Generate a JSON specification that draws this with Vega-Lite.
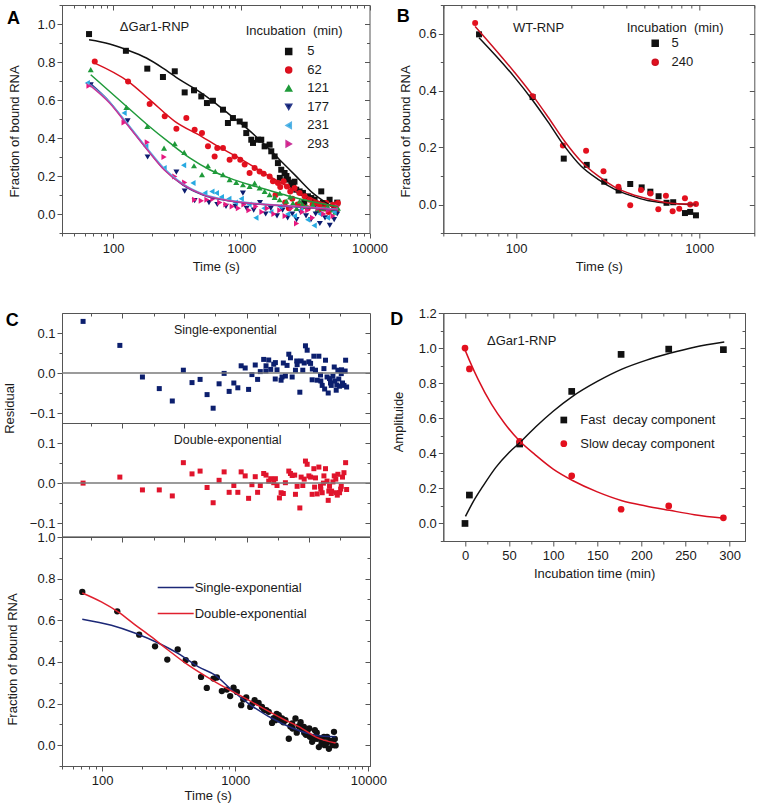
{
"$schema": "https://vega.github.io/schema/vega-lite/v6.json",
"background": "white",
"padding": {"left": 3, "top": -2, "right": 0, "bottom": 0},
"config": {
  "font": "Liberation Sans",
  "view": {"stroke": "#555555", "strokeWidth": 1},
  "axis": {"domainColor": "#555555", "tickColor": "#555555", "labelColor": "#1a1a1a", "titleColor": "#1a1a1a", "labelFontSize": 13, "titleFontSize": 13, "titleFontWeight": "normal", "labelFont": "Liberation Sans", "titleFont": "Liberation Sans", "grid": false, "labelOverlap": false, "labelFlush": false, "labelBound": false, "tickWidth": 1, "domainWidth": 1},
  "axisTop": {"domain": false, "offset": -5, "tickSize": 5, "labels": false, "title": null, "maxExtent": 0, "minExtent": 0},
  "axisRight": {"domain": false, "offset": -5, "tickSize": 5, "labels": false, "title": null, "maxExtent": 0, "minExtent": 0},
  "legend": {"labelFontSize": 13, "titleFontSize": 13, "titleFontWeight": "normal", "labelColor": "#1a1a1a", "titleColor": "#1a1a1a", "labelFont": "Liberation Sans", "titleFont": "Liberation Sans", "padding": 0},
  "title": {"font": "Liberation Sans", "fontSize": 18, "fontWeight": "bold", "color": "#000000", "anchor": "start", "frame": "group", "offset": 0, "baseline": "alphabetic", "orient": "none"},
  "text": {"font": "Liberation Sans", "fontSize": 13, "color": "#1a1a1a"}
},
"datasets": {
  "a_pts": [
    {"t":65,"y":0.947,"s":"5"},{"t":126,"y":0.859,"s":"5"},{"t":185,"y":0.765,"s":"5"},{"t":245,"y":0.721,"s":"5"},{"t":303,"y":0.751,"s":"5"},{"t":362,"y":0.640,"s":"5"},{"t":428,"y":0.651,"s":"5"},{"t":488,"y":0.619,"s":"5"},{"t":540,"y":0.584,"s":"5"},{"t":601,"y":0.596,"s":"5"},{"t":720,"y":0.549,"s":"5"},{"t":787,"y":0.479,"s":"5"},{"t":861,"y":0.505,"s":"5"},{"t":972,"y":0.487,"s":"5"},{"t":1063,"y":0.470,"s":"5"},{"t":1094,"y":0.426,"s":"5"},{"t":1197,"y":0.391,"s":"5"},{"t":1234,"y":0.374,"s":"5"},{"t":1350,"y":0.391,"s":"5"},{"t":1432,"y":0.391,"s":"5"},{"t":1521,"y":0.356,"s":"5"},{"t":1664,"y":0.365,"s":"5"},{"t":1714,"y":0.330,"s":"5"},{"t":1820,"y":0.303,"s":"5"},{"t":1931,"y":0.268,"s":"5"},{"t":2000,"y":0.19,"s":"5"},{"t":2050,"y":0.233,"s":"5"},{"t":2177,"y":0.216,"s":"5"},{"t":2250,"y":0.2,"s":"5"},{"t":2312,"y":0.181,"s":"5"},{"t":2455,"y":0.163,"s":"5"},{"t":2529,"y":0.145,"s":"5"},{"t":2600,"y":0.17,"s":"5"},{"t":2685,"y":0.128,"s":"5"},{"t":2851,"y":0.119,"s":"5"},{"t":3027,"y":0.111,"s":"5"},{"t":3100,"y":0.06,"s":"5"},{"t":3311,"y":0.093,"s":"5"},{"t":3515,"y":0.084,"s":"5"},{"t":3732,"y":0.075,"s":"5"},{"t":3900,"y":0.05,"s":"5"},{"t":4205,"y":0.119,"s":"5"},{"t":4335,"y":0.058,"s":"5"},{"t":4600,"y":0.03,"s":"5"},{"t":4884,"y":0.075,"s":"5"},{"t":5344,"y":0.040,"s":"5"},{"t":5600,"y":0.06,"s":"5"},
    {"t":72,"y":0.803,"s":"62"},{"t":131,"y":0.698,"s":"62"},{"t":193,"y":0.579,"s":"62"},{"t":253,"y":0.514,"s":"62"},{"t":312,"y":0.449,"s":"62"},{"t":373,"y":0.505,"s":"62"},{"t":433,"y":0.444,"s":"62"},{"t":494,"y":0.426,"s":"62"},{"t":550,"y":0.356,"s":"62"},{"t":620,"y":0.303,"s":"62"},{"t":650,"y":0.347,"s":"62"},{"t":720,"y":0.347,"s":"62"},{"t":811,"y":0.286,"s":"62"},{"t":887,"y":0.303,"s":"62"},{"t":982,"y":0.286,"s":"62"},{"t":1063,"y":0.260,"s":"62"},{"t":1161,"y":0.216,"s":"62"},{"t":1271,"y":0.242,"s":"62"},{"t":1390,"y":0.224,"s":"62"},{"t":1495,"y":0.212,"s":"62"},{"t":1664,"y":0.198,"s":"62"},{"t":1766,"y":0.172,"s":"62"},{"t":1850,"y":0.1,"s":"62"},{"t":1931,"y":0.163,"s":"62"},{"t":2014,"y":0.142,"s":"62"},{"t":2140,"y":0.172,"s":"62"},{"t":2200,"y":0.06,"s":"62"},{"t":2270,"y":0.145,"s":"62"},{"t":2350,"y":0.03,"s":"62"},{"t":2410,"y":0.119,"s":"62"},{"t":2500,"y":0.08,"s":"62"},{"t":2606,"y":0.137,"s":"62"},{"t":2750,"y":0.05,"s":"62"},{"t":2851,"y":0.110,"s":"62"},{"t":3000,"y":0.04,"s":"62"},{"t":3118,"y":0.093,"s":"62"},{"t":3300,"y":0.03,"s":"62"},{"t":3412,"y":0.075,"s":"62"},{"t":3600,"y":0.05,"s":"62"},{"t":3732,"y":0.058,"s":"62"},{"t":4000,"y":0.02,"s":"62"},{"t":4084,"y":0.049,"s":"62"},{"t":4400,"y":0.03,"s":"62"},{"t":4600,"y":0.058,"s":"62"},{"t":4800,"y":0.01,"s":"62"},{"t":5185,"y":0.049,"s":"62"},{"t":5300,"y":0.03,"s":"62"},{"t":5500,"y":0.02,"s":"62"},{"t":5675,"y":0.058,"s":"62"},
    {"t":67,"y":0.760,"s":"121"},{"t":127,"y":0.561,"s":"121"},{"t":185,"y":0.461,"s":"121"},{"t":250,"y":0.347,"s":"121"},{"t":303,"y":0.370,"s":"121"},{"t":359,"y":0.324,"s":"121"},{"t":428,"y":0.254,"s":"121"},{"t":494,"y":0.207,"s":"121"},{"t":550,"y":0.254,"s":"121"},{"t":627,"y":0.224,"s":"121"},{"t":720,"y":0.207,"s":"121"},{"t":811,"y":0.181,"s":"121"},{"t":914,"y":0.166,"s":"121"},{"t":1030,"y":0.154,"s":"121"},{"t":1161,"y":0.145,"s":"121"},{"t":1271,"y":0.163,"s":"121"},{"t":1390,"y":0.137,"s":"121"},{"t":1521,"y":0.119,"s":"121"},{"t":1664,"y":0.102,"s":"121"},{"t":1820,"y":0.088,"s":"121"},{"t":1990,"y":0.075,"s":"121"},{"t":2000,"y":0.11,"s":"121"},{"t":2244,"y":0.067,"s":"121"},{"t":2400,"y":0.09,"s":"121"},{"t":2529,"y":0.058,"s":"121"},{"t":2700,"y":0.03,"s":"121"},{"t":2851,"y":0.067,"s":"121"},{"t":3000,"y":0.05,"s":"121"},{"t":3215,"y":0.040,"s":"121"},{"t":3620,"y":0.049,"s":"121"},{"t":3900,"y":0.02,"s":"121"},{"t":4335,"y":0.031,"s":"121"},{"t":4700,"y":0.04,"s":"121"},{"t":5185,"y":0.023,"s":"121"},{"t":5400,"y":0.01,"s":"121"},{"t":5675,"y":0.031,"s":"121"},
    {"t":67,"y":0.68,"s":"177"},{"t":130,"y":0.49,"s":"177"},{"t":186,"y":0.30,"s":"177"},{"t":312,"y":0.22,"s":"177"},{"t":362,"y":0.12,"s":"177"},{"t":433,"y":0.07,"s":"177"},{"t":560,"y":0.06,"s":"177"},{"t":650,"y":0.05,"s":"177"},{"t":760,"y":0.04,"s":"177"},{"t":900,"y":0.04,"s":"177"},{"t":1030,"y":0.11,"s":"177"},{"t":1100,"y":0.03,"s":"177"},{"t":1250,"y":0.02,"s":"177"},{"t":1400,"y":0.06,"s":"177"},{"t":1550,"y":0.00,"s":"177"},{"t":1700,"y":0.03,"s":"177"},{"t":1900,"y":-0.01,"s":"177"},{"t":2100,"y":0.02,"s":"177"},{"t":2300,"y":-0.02,"s":"177"},{"t":2500,"y":0.00,"s":"177"},{"t":2700,"y":-0.03,"s":"177"},{"t":2900,"y":0.01,"s":"177"},{"t":3200,"y":-0.01,"s":"177"},{"t":3500,"y":-0.03,"s":"177"},{"t":3800,"y":0.00,"s":"177"},{"t":4100,"y":-0.05,"s":"177"},{"t":4500,"y":-0.02,"s":"177"},{"t":4900,"y":-0.06,"s":"177"},{"t":5300,"y":-0.03,"s":"177"},{"t":5600,"y":0.00,"s":"177"},
    {"t":63,"y":0.689,"s":"231"},{"t":122,"y":0.531,"s":"231"},{"t":180,"y":0.356,"s":"231"},{"t":250,"y":0.242,"s":"231"},{"t":355,"y":0.256,"s":"231"},{"t":420,"y":0.163,"s":"231"},{"t":520,"y":0.110,"s":"231"},{"t":590,"y":0.119,"s":"231"},{"t":640,"y":0.11,"s":"231"},{"t":700,"y":0.09,"s":"231"},{"t":800,"y":0.08,"s":"231"},{"t":900,"y":0.06,"s":"231"},{"t":1000,"y":0.08,"s":"231"},{"t":1150,"y":0.05,"s":"231"},{"t":1300,"y":-0.02,"s":"231"},{"t":1500,"y":0.03,"s":"231"},{"t":1700,"y":0.01,"s":"231"},{"t":2000,"y":0.04,"s":"231"},{"t":2300,"y":0.00,"s":"231"},{"t":2600,"y":-0.01,"s":"231"},{"t":2900,"y":0.02,"s":"231"},{"t":3300,"y":-0.03,"s":"231"},{"t":3700,"y":-0.06,"s":"231"},{"t":4100,"y":0.00,"s":"231"},{"t":4700,"y":-0.02,"s":"231"},{"t":5300,"y":0.01,"s":"231"},
    {"t":65,"y":0.675,"s":"293"},{"t":122,"y":0.482,"s":"293"},{"t":185,"y":0.377,"s":"293"},{"t":250,"y":0.300,"s":"293"},{"t":303,"y":0.198,"s":"293"},{"t":362,"y":0.166,"s":"293"},{"t":433,"y":0.075,"s":"293"},{"t":488,"y":0.070,"s":"293"},{"t":540,"y":0.075,"s":"293"},{"t":601,"y":0.079,"s":"293"},{"t":680,"y":0.06,"s":"293"},{"t":760,"y":0.05,"s":"293"},{"t":850,"y":0.04,"s":"293"},{"t":950,"y":0.03,"s":"293"},{"t":1050,"y":0.05,"s":"293"},{"t":1150,"y":0.02,"s":"293"},{"t":1300,"y":0.04,"s":"293"},{"t":1450,"y":0.01,"s":"293"},{"t":1600,"y":0.03,"s":"293"},{"t":1800,"y":0.00,"s":"293"},{"t":2000,"y":0.02,"s":"293"},{"t":2200,"y":-0.01,"s":"293"},{"t":2450,"y":0.03,"s":"293"},{"t":2700,"y":-0.05,"s":"293"},{"t":3000,"y":0.01,"s":"293"},{"t":3300,"y":0.02,"s":"293"},{"t":3600,"y":-0.02,"s":"293"},{"t":4000,"y":0.03,"s":"293"},{"t":4400,"y":0.00,"s":"293"},{"t":4800,"y":0.02,"s":"293"},{"t":5200,"y":-0.01,"s":"293"},{"t":5600,"y":0.04,"s":"293"}
  ],
  "a_fit": [
    {"t":65,"y":0.917,"s":"5"},{"t":94,"y":0.895,"s":"5"},{"t":127,"y":0.865,"s":"5"},{"t":182,"y":0.821,"s":"5"},{"t":245,"y":0.768,"s":"5"},{"t":331,"y":0.707,"s":"5"},{"t":446,"y":0.654,"s":"5"},{"t":601,"y":0.593,"s":"5"},{"t":811,"y":0.523,"s":"5"},{"t":1094,"y":0.453,"s":"5"},{"t":1476,"y":0.374,"s":"5"},{"t":1990,"y":0.286,"s":"5"},{"t":2685,"y":0.198,"s":"5"},{"t":3620,"y":0.110,"s":"5"},{"t":4600,"y":0.058,"s":"5"},{"t":5500,"y":0.026,"s":"5"},
    {"t":72,"y":0.794,"s":"62"},{"t":131,"y":0.698,"s":"62"},{"t":193,"y":0.602,"s":"62"},{"t":303,"y":0.488,"s":"62"},{"t":488,"y":0.409,"s":"62"},{"t":658,"y":0.356,"s":"62"},{"t":914,"y":0.303,"s":"62"},{"t":1664,"y":0.198,"s":"62"},{"t":3027,"y":0.102,"s":"62"},{"t":5505,"y":0.031,"s":"62"},
    {"t":67,"y":0.733,"s":"121"},{"t":127,"y":0.567,"s":"121"},{"t":185,"y":0.470,"s":"121"},{"t":277,"y":0.374,"s":"121"},{"t":396,"y":0.295,"s":"121"},{"t":567,"y":0.233,"s":"121"},{"t":811,"y":0.189,"s":"121"},{"t":1161,"y":0.154,"s":"121"},{"t":1664,"y":0.124,"s":"121"},{"t":2384,"y":0.093,"s":"121"},{"t":3412,"y":0.067,"s":"121"},{"t":5675,"y":0.040,"s":"121"},
    {"t":67,"y":0.685,"s":"177"},{"t":94,"y":0.59,"s":"177"},{"t":123,"y":0.49,"s":"177"},{"t":185,"y":0.34,"s":"177"},{"t":250,"y":0.235,"s":"177"},{"t":351,"y":0.152,"s":"177"},{"t":503,"y":0.10,"s":"177"},{"t":811,"y":0.068,"s":"177"},{"t":1664,"y":0.047,"s":"177"},{"t":3027,"y":0.035,"s":"177"},{"t":5675,"y":0.02,"s":"177"},
    {"t":63,"y":0.69,"s":"231"},{"t":94,"y":0.59,"s":"231"},{"t":123,"y":0.495,"s":"231"},{"t":185,"y":0.345,"s":"231"},{"t":250,"y":0.24,"s":"231"},{"t":351,"y":0.158,"s":"231"},{"t":503,"y":0.105,"s":"231"},{"t":811,"y":0.072,"s":"231"},{"t":1664,"y":0.05,"s":"231"},{"t":3027,"y":0.038,"s":"231"},{"t":5675,"y":0.025,"s":"231"},
    {"t":65,"y":0.681,"s":"293"},{"t":94,"y":0.584,"s":"293"},{"t":123,"y":0.488,"s":"293"},{"t":185,"y":0.338,"s":"293"},{"t":250,"y":0.233,"s":"293"},{"t":351,"y":0.154,"s":"293"},{"t":503,"y":0.102,"s":"293"},{"t":811,"y":0.070,"s":"293"},{"t":1664,"y":0.049,"s":"293"},{"t":3027,"y":0.037,"s":"293"},{"t":5675,"y":0.023,"s":"293"}
  ],
  "b_pts": [
    {"t":62.7,"y":0.597,"s":"5"},{"t":123,"y":0.377,"s":"5"},{"t":182,"y":0.161,"s":"5"},{"t":243,"y":0.139,"s":"5"},{"t":303,"y":0.080,"s":"5"},{"t":363,"y":0.049,"s":"5"},{"t":420,"y":0.072,"s":"5"},{"t":485,"y":0.060,"s":"5"},{"t":541,"y":0.045,"s":"5"},{"t":600,"y":0.029,"s":"5"},{"t":663,"y":0.006,"s":"5"},{"t":721,"y":0.008,"s":"5"},{"t":836,"y":-0.030,"s":"5"},{"t":893,"y":-0.026,"s":"5"},{"t":960,"y":-0.038,"s":"5"},
    {"t":59.7,"y":0.637,"s":"240"},{"t":123,"y":0.380,"s":"240"},{"t":180,"y":0.207,"s":"240"},{"t":241,"y":0.189,"s":"240"},{"t":300,"y":0.117,"s":"240"},{"t":362,"y":0.062,"s":"240"},{"t":420,"y":-0.003,"s":"240"},{"t":481,"y":0.051,"s":"240"},{"t":541,"y":0.039,"s":"240"},{"t":598,"y":-0.017,"s":"240"},{"t":658,"y":0.031,"s":"240"},{"t":716,"y":-0.024,"s":"240"},{"t":778,"y":-0.015,"s":"240"},{"t":836,"y":0.022,"s":"240"},{"t":893,"y":0.000,"s":"240"},{"t":960,"y":0.002,"s":"240"}
  ],
  "b_fit": [
    {"t":62.7,"y":0.585,"s":"5"},{"t":97.9,"y":0.447,"s":"5"},{"t":123,"y":0.366,"s":"5"},{"t":149,"y":0.291,"s":"5"},{"t":184,"y":0.204,"s":"5"},{"t":226,"y":0.135,"s":"5"},{"t":279,"y":0.089,"s":"5"},{"t":344,"y":0.054,"s":"5"},{"t":424,"y":0.031,"s":"5"},{"t":523,"y":0.014,"s":"5"},{"t":644,"y":0.006,"s":"5"},{"t":794,"y":0.002,"s":"5"},{"t":960,"y":0.000,"s":"5"},
    {"t":59.7,"y":0.625,"s":"240"},{"t":97.9,"y":0.464,"s":"240"},{"t":123,"y":0.383,"s":"240"},{"t":149,"y":0.308,"s":"240"},{"t":184,"y":0.222,"s":"240"},{"t":226,"y":0.152,"s":"240"},{"t":279,"y":0.101,"s":"240"},{"t":344,"y":0.062,"s":"240"},{"t":424,"y":0.037,"s":"240"},{"t":523,"y":0.020,"s":"240"},{"t":644,"y":0.008,"s":"240"},{"t":794,"y":0.002,"s":"240"},{"t":960,"y":0.002,"s":"240"}
  ],
  "c_res": [
    {"t":72,"r":0.129,"m":"single"},{"t":136,"r":0.069,"m":"single"},{"t":201,"r":-0.010,"m":"single"},{"t":269,"r":-0.039,"m":"single"},{"t":337,"r":-0.070,"m":"single"},{"t":408,"r":0.007,"m":"single"},{"t":474,"r":-0.024,"m":"single"},{"t":545,"r":-0.016,"m":"single"},{"t":615,"r":-0.054,"m":"single"},{"t":683,"r":-0.088,"m":"single"},{"t":757,"r":-0.027,"m":"single"},{"t":826,"r":-0.001,"m":"single"},{"t":901,"r":-0.046,"m":"single"},{"t":977,"r":-0.025,"m":"single"},{"t":1047,"r":-0.037,"m":"single"},{"t":1109,"r":0.018,"m":"single"},{"t":1189,"r":0.0125,"m":"single"},{"t":1261,"r":-0.041,"m":"single"},{"t":1336,"r":-0.004,"m":"single"},{"t":1415,"r":0.020,"m":"single"},{"t":1474,"r":-0.016,"m":"single"},{"t":1544,"r":0.0035,"m":"single"},{"t":1637,"r":0.034,"m":"single"},{"t":1700,"r":0.005,"m":"single"},{"t":1705,"r":0.018,"m":"single"},{"t":1786,"r":0.0325,"m":"single"},{"t":1849,"r":0.009,"m":"single"},{"t":1948,"r":0.022,"m":"single"},{"t":2000,"r":-0.015,"m":"single"},{"t":2005,"r":0.026,"m":"single"},{"t":2062,"r":0.008,"m":"single"},{"t":2212,"r":-0.018,"m":"single"},{"t":2249,"r":-0.010,"m":"single"},{"t":2300,"r":0.025,"m":"single"},{"t":2384,"r":-0.0075,"m":"single"},{"t":2453,"r":0.019,"m":"single"},{"t":2528,"r":0.047,"m":"single"},{"t":2602,"r":0.038,"m":"single"},{"t":2680,"r":-0.010,"m":"single"},{"t":2837,"r":0.007,"m":"single"},{"t":2900,"r":0.03,"m":"single"},{"t":2920,"r":0.021,"m":"single"},{"t":3060,"r":-0.048,"m":"single"},{"t":3129,"r":0.030,"m":"single"},{"t":3220,"r":0.007,"m":"single"},{"t":3300,"r":0.025,"m":"single"},{"t":3373,"r":0.068,"m":"single"},{"t":3474,"r":0.057,"m":"single"},{"t":3578,"r":0.028,"m":"single"},{"t":3685,"r":0.024,"m":"single"},{"t":3786,"r":-0.017,"m":"single"},{"t":3800,"r":0.01,"m":"single"},{"t":3900,"r":0.042,"m":"single"},{"t":4012,"r":0.007,"m":"single"},{"t":4130,"r":-0.018,"m":"single"},{"t":4253,"r":0.042,"m":"single"},{"t":4373,"r":-0.005,"m":"single"},{"t":4400,"r":-0.02,"m":"single"},{"t":4505,"r":-0.031,"m":"single"},{"t":4642,"r":0.011,"m":"single"},{"t":4700,"r":-0.04,"m":"single"},{"t":4772,"r":0.032,"m":"single"},{"t":4900,"r":-0.01,"m":"single"},{"t":5000,"r":-0.050,"m":"single"},{"t":5115,"r":-0.014,"m":"single"},{"t":5200,"r":-0.025,"m":"single"},{"t":5270,"r":-0.031,"m":"single"},{"t":5424,"r":-0.008,"m":"single"},{"t":5549,"r":0.015,"m":"single"},{"t":5600,"r":-0.02,"m":"single"},{"t":5741,"r":-0.043,"m":"single"},{"t":5800,"r":-0.03,"m":"single"},{"t":5910,"r":0.007,"m":"single"},{"t":6000,"r":-0.015,"m":"single"},{"t":6085,"r":-0.033,"m":"single"},{"t":6265,"r":-0.0015,"m":"single"},{"t":6300,"r":0.008,"m":"single"},{"t":6400,"r":-0.025,"m":"single"},{"t":6565,"r":-0.031,"m":"single"},{"t":6700,"r":0.005,"m":"single"},{"t":6755,"r":0.032,"m":"single"},{"t":6875,"r":-0.035,"m":"single"},
    {"t":72,"r":0.0,"m":"double"},{"t":136,"r":0.015,"m":"double"},{"t":201,"r":-0.017,"m":"double"},{"t":269,"r":-0.017,"m":"double"},{"t":337,"r":-0.032,"m":"double"},{"t":408,"r":0.051,"m":"double"},{"t":474,"r":0.023,"m":"double"},{"t":545,"r":0.030,"m":"double"},{"t":615,"r":-0.011,"m":"double"},{"t":683,"r":-0.049,"m":"double"},{"t":757,"r":0.007,"m":"double"},{"t":826,"r":0.028,"m":"double"},{"t":901,"r":-0.023,"m":"double"},{"t":977,"r":-0.006,"m":"double"},{"t":1047,"r":-0.023,"m":"double"},{"t":1109,"r":0.028,"m":"double"},{"t":1189,"r":0.018,"m":"double"},{"t":1261,"r":-0.038,"m":"double"},{"t":1336,"r":-0.004,"m":"double"},{"t":1415,"r":0.016,"m":"double"},{"t":1474,"r":-0.023,"m":"double"},{"t":1544,"r":-0.006,"m":"double"},{"t":1637,"r":0.024,"m":"double"},{"t":1705,"r":0.020,"m":"double"},{"t":1786,"r":0.005,"m":"double"},{"t":1849,"r":0.011,"m":"double"},{"t":1948,"r":0.001,"m":"double"},{"t":2005,"r":0.011,"m":"double"},{"t":2062,"r":-0.006,"m":"double"},{"t":2150,"r":-0.037,"m":"double"},{"t":2212,"r":-0.024,"m":"double"},{"t":2300,"r":-0.026,"m":"double"},{"t":2384,"r":0.001,"m":"double"},{"t":2528,"r":0.030,"m":"double"},{"t":2602,"r":0.024,"m":"double"},{"t":2680,"r":0.019,"m":"double"},{"t":2800,"r":0.02,"m":"double"},{"t":2837,"r":-0.028,"m":"double"},{"t":2920,"r":-0.008,"m":"double"},{"t":3060,"r":-0.062,"m":"double"},{"t":3129,"r":0.015,"m":"double"},{"t":3220,"r":-0.006,"m":"double"},{"t":3300,"r":0.01,"m":"double"},{"t":3373,"r":0.055,"m":"double"},{"t":3474,"r":0.047,"m":"double"},{"t":3578,"r":0.018,"m":"double"},{"t":3685,"r":0.015,"m":"double"},{"t":3786,"r":-0.028,"m":"double"},{"t":3900,"r":0.036,"m":"double"},{"t":3950,"r":-0.01,"m":"double"},{"t":4012,"r":0.013,"m":"double"},{"t":4130,"r":-0.027,"m":"double"},{"t":4253,"r":0.040,"m":"double"},{"t":4373,"r":-0.008,"m":"double"},{"t":4400,"r":-0.015,"m":"double"},{"t":4505,"r":-0.024,"m":"double"},{"t":4600,"r":0.0,"m":"double"},{"t":4642,"r":0.018,"m":"double"},{"t":4772,"r":0.036,"m":"double"},{"t":4900,"r":0.005,"m":"double"},{"t":5000,"r":-0.043,"m":"double"},{"t":5050,"r":-0.02,"m":"double"},{"t":5115,"r":-0.008,"m":"double"},{"t":5270,"r":-0.026,"m":"double"},{"t":5300,"r":-0.02,"m":"double"},{"t":5424,"r":0.003,"m":"double"},{"t":5549,"r":0.018,"m":"double"},{"t":5700,"r":0.01,"m":"double"},{"t":5741,"r":-0.024,"m":"double"},{"t":5850,"r":-0.03,"m":"double"},{"t":5910,"r":0.022,"m":"double"},{"t":6085,"r":-0.024,"m":"double"},{"t":6200,"r":-0.015,"m":"double"},{"t":6265,"r":-0.008,"m":"double"},{"t":6400,"r":0.015,"m":"double"},{"t":6565,"r":0.026,"m":"double"},{"t":6755,"r":0.051,"m":"double"},{"t":6875,"r":-0.016,"m":"double"}
  ],
  "c_pts": [
    {"t":71,"y":0.736},{"t":130,"y":0.643},{"t":190,"y":0.531},{"t":250,"y":0.475},{"t":309,"y":0.411},{"t":370,"y":0.460},{"t":425,"y":0.408},{"t":494,"y":0.392},{"t":554,"y":0.328},{"t":612,"y":0.275},{"t":687,"y":0.320},{"t":728,"y":0.325},{"t":794,"y":0.260},{"t":866,"y":0.267},{"t":917,"y":0.236},{"t":972,"y":0.276},{"t":1030,"y":0.256},{"t":1110,"y":0.192},{"t":1150,"y":0.22},{"t":1211,"y":0.229},{"t":1298,"y":0.184},{"t":1350,"y":0.2},{"t":1400,"y":0.216},{"t":1500,"y":0.203},{"t":1589,"y":0.184},{"t":1650,"y":0.17},{"t":1713,"y":0.168},{"t":1786,"y":0.160},{"t":1892,"y":0.107},{"t":1950,"y":0.13},{"t":2005,"y":0.120},{"t":2050,"y":0.15},{"t":2124,"y":0.144},{"t":2200,"y":0.12},{"t":2249,"y":0.128},{"t":2300,"y":0.11},{"t":2384,"y":0.120},{"t":2528,"y":0.031},{"t":2600,"y":0.09},{"t":2680,"y":0.104},{"t":2700,"y":0.08},{"t":2837,"y":0.128},{"t":2900,"y":0.06},{"t":3006,"y":0.091},{"t":3100,"y":0.11},{"t":3147,"y":0.080},{"t":3280,"y":0.088},{"t":3300,"y":0.06},{"t":3400,"y":0.05},{"t":3474,"y":0.064},{"t":3600,"y":0.08},{"t":3640,"y":0.040},{"t":3786,"y":0.016},{"t":3900,"y":0.03},{"t":3969,"y":0.072},{"t":4100,"y":0.06},{"t":4130,"y":0.031},{"t":4253,"y":-0.009},{"t":4400,"y":0.03},{"t":4456,"y":0.008},{"t":4642,"y":0.040},{"t":4700,"y":0.0},{"t":4831,"y":0.008},{"t":4900,"y":0.04},{"t":5060,"y":-0.017},{"t":5200,"y":0.02},{"t":5270,"y":0.016},{"t":5400,"y":0.0},{"t":5525,"y":0.064},{"t":5600,"y":0.03},{"t":5680,"y":-0.001}
  ],
  "c_fit": [
    {"t":71,"y":0.605,"m":"Single-exponential"},{"t":117.5,"y":0.576,"m":"Single-exponential"},{"t":176,"y":0.539,"m":"Single-exponential"},{"t":264,"y":0.491,"m":"Single-exponential"},{"t":374,"y":0.440,"m":"Single-exponential"},{"t":530,"y":0.376,"m":"Single-exponential"},{"t":707,"y":0.336,"m":"Single-exponential"},{"t":945,"y":0.264,"m":"Single-exponential"},{"t":1261,"y":0.200,"m":"Single-exponential"},{"t":2249,"y":0.104,"m":"Single-exponential"},{"t":4012,"y":0.048,"m":"Single-exponential"},{"t":5680,"y":0.040,"m":"Single-exponential"},
    {"t":71,"y":0.731,"m":"Double-exponential"},{"t":98.8,"y":0.688,"m":"Double-exponential"},{"t":132,"y":0.640,"m":"Double-exponential"},{"t":176,"y":0.579,"m":"Double-exponential"},{"t":235,"y":0.520,"m":"Double-exponential"},{"t":315,"y":0.456,"m":"Double-exponential"},{"t":445,"y":0.384,"m":"Double-exponential"},{"t":707,"y":0.304,"m":"Double-exponential"},{"t":1261,"y":0.216,"m":"Double-exponential"},{"t":2249,"y":0.128,"m":"Double-exponential"},{"t":3185,"y":0.080,"m":"Double-exponential"},{"t":4012,"y":0.040,"m":"Double-exponential"},{"t":5680,"y":0.010,"m":"Double-exponential"}
  ],
  "d_pts": [
    {"inc":0,"amp":0.0,"c":"Fast\u00a0 decay component"},{"inc":5,"amp":0.162,"c":"Fast\u00a0 decay component"},{"inc":62,"amp":0.453,"c":"Fast\u00a0 decay component"},{"inc":121,"amp":0.753,"c":"Fast\u00a0 decay component"},{"inc":177,"amp":0.964,"c":"Fast\u00a0 decay component"},{"inc":231,"amp":0.994,"c":"Fast\u00a0 decay component"},{"inc":293,"amp":0.991,"c":"Fast\u00a0 decay component"},
    {"inc":0,"amp":1.0,"c":"Slow decay component"},{"inc":5,"amp":0.881,"c":"Slow decay component"},{"inc":62,"amp":0.468,"c":"Slow decay component"},{"inc":121,"amp":0.272,"c":"Slow decay component"},{"inc":177,"amp":0.081,"c":"Slow decay component"},{"inc":231,"amp":0.100,"c":"Slow decay component"},{"inc":293,"amp":0.032,"c":"Slow decay component"}
  ],
  "d_fit": [
    {"inc":0.5,"amp":0.04,"c":"fast"},{"inc":10,"amp":0.13,"c":"fast"},{"inc":20,"amp":0.21,"c":"fast"},{"inc":35,"amp":0.32,"c":"fast"},{"inc":50,"amp":0.405,"c":"fast"},{"inc":62,"amp":0.46,"c":"fast"},{"inc":80,"amp":0.55,"c":"fast"},{"inc":100,"amp":0.64,"c":"fast"},{"inc":122,"amp":0.725,"c":"fast"},{"inc":150,"amp":0.81,"c":"fast"},{"inc":178,"amp":0.88,"c":"fast"},{"inc":205,"amp":0.93,"c":"fast"},{"inc":232,"amp":0.97,"c":"fast"},{"inc":260,"amp":1.005,"c":"fast"},{"inc":294,"amp":1.035,"c":"fast"},
    {"inc":0,"amp":0.99,"c":"slow"},{"inc":5,"amp":0.93,"c":"slow"},{"inc":15,"amp":0.82,"c":"slow"},{"inc":30,"amp":0.68,"c":"slow"},{"inc":45,"amp":0.57,"c":"slow"},{"inc":62,"amp":0.47,"c":"slow"},{"inc":80,"amp":0.39,"c":"slow"},{"inc":100,"amp":0.31,"c":"slow"},{"inc":122,"amp":0.245,"c":"slow"},{"inc":150,"amp":0.18,"c":"slow"},{"inc":178,"amp":0.13,"c":"slow"},{"inc":205,"amp":0.1,"c":"slow"},{"inc":232,"amp":0.075,"c":"slow"},{"inc":260,"amp":0.05,"c":"slow"},{"inc":294,"amp":0.03,"c":"slow"}
  ]
},
"hconcat": [
  {
    "vconcat": [
      {
        "width": 307.5, "height": 228,
        "title": {"text": "A", "dx": -55, "dy": 5},
        "layer": [
          {
            "data": {"name": "a_pts"},
            "mark": {"type": "point", "filled": true, "size": 36, "opacity": 1},
            "encoding": {
              "x": {"field": "t", "type": "quantitative", "scale": {"type": "log", "domain": [40, 10000], "nice": false}, "axis": {"orient": "bottom", "values": [40,50,60,70,80,90,100,200,300,400,500,600,700,800,900,1000,2000,3000,4000,5000,6000,7000,8000,9000,10000], "format": "d", "labelExpr": "indexof([100,1000,10000],datum.value)>=0?datum.label:''", "tickSize": {"condition": {"test": "indexof([100,1000,10000],datum.value)>=0", "value": 5}, "value": 3}, "title": "Time (s)", "labelPadding": 4, "titlePadding": 5}},
              "y": {"field": "y", "type": "quantitative", "scale": {"domain": [-0.1, 1.1], "nice": false, "zero": false}, "axis": {"orient": "left", "values": [-0.1,0,0.1,0.2,0.3,0.4,0.5,0.6,0.7,0.8,0.9,1,1.1], "format": ".1f", "labelExpr": "abs(datum.value*5-round(datum.value*5))<0.001?datum.label:''", "tickSize": {"condition": {"test": "abs(datum.value*5-round(datum.value*5))<0.001", "value": 5}, "value": 3}, "title": "Fraction of bound RNA", "labelPadding": 2, "titlePadding": 15, "titleY": 126}},
              "color": {"field": "s", "type": "nominal", "scale": {"domain": ["5","62","121","177","231","293"], "range": ["#111111","#e3101e","#1f9a3a","#0c1c6e","#27a9e1","#e6187f"]}, "legend": {"orient": "none", "legendX": 183.7, "legendY": 19.5, "direction": "vertical", "title": "Incubation\u00a0 (min)", "titlePadding": 7.4, "rowPadding": 4.5, "symbolOffset": 36.5, "labelOffset": 12, "symbolSize": 36}},
              "shape": {"field": "s", "type": "nominal", "scale": {"domain": ["5","62","121","177","231","293"], "range": ["square","circle","triangle-up","triangle-down","triangle-left","triangle-right"]}, "legend": {"orient": "none", "legendX": 183.7, "legendY": 19.5, "direction": "vertical", "title": "Incubation\u00a0 (min)", "titlePadding": 7.4, "rowPadding": 4.5, "symbolOffset": 36.5, "labelOffset": 12, "symbolSize": 36}}
            }
          },
          {
            "data": {"name": "a_fit"},
            "mark": {"type": "line", "strokeWidth": 1.5, "interpolate": "monotone"},
            "encoding": {
              "x": {"field": "t", "type": "quantitative", "scale": {"type": "log", "domain": [40, 10000], "nice": false}, "axis": {"orient": "top", "values": [40,50,60,70,80,90,100,200,300,400,500,600,700,800,900,1000,2000,3000,4000,5000,6000,7000,8000,9000,10000], "tickDash": {"condition": {"test": "indexof([100,1000,10000],datum.value)>=0", "value": [6, 0]}, "value": [0, 2, 3, 10]}}},
              "y": {"field": "y", "type": "quantitative", "scale": {"domain": [-0.1, 1.1], "nice": false, "zero": false}, "axis": {"orient": "right", "values": [-0.1,0,0.1,0.2,0.3,0.4,0.5,0.6,0.7,0.8,0.9,1,1.1], "tickDash": {"condition": {"test": "abs(datum.value*5-round(datum.value*5))<0.001", "value": [6, 0]}, "value": [0, 2, 3, 10]}}},
              "stroke": {"field": "s", "type": "nominal", "scale": {"domain": ["5","62","121","177","231","293"], "range": ["#111111","#d7101e","#1f9a3a","#2a3a8a","#5ab4e6","#c8359a"]}, "legend": null}
            }
          },
          {
            "data": {"values": [{}]},
            "mark": {"type": "text", "align": "left", "baseline": "middle"},
            "encoding": {
              "x": {"datum": 113, "type": "quantitative", "scale": {"type": "log", "domain": [40, 10000], "nice": false}, "axis": null},
              "y": {"datum": 0.983, "type": "quantitative", "scale": {"domain": [-0.1, 1.1], "nice": false, "zero": false}, "axis": null},
              "text": {"value": "ΔGar1-RNP"}
            }
          }
        ],
        "resolve": {"axis": {"x": "independent", "y": "independent"}}
      },
      {"width": 1, "height": 80, "data": {"values": []}, "mark": "point", "view": {"stroke": null}},
      {
        "width": 308, "height": 110,
        "title": {"text": "C", "dx": -56.3, "dy": -1},
        "layer": [
          {
            "data": {"name": "c_res"},
            "transform": [{"filter": "datum.m == 'single'"}],
            "mark": {"type": "square", "size": 25, "opacity": 1, "color": "#0c1f6e"},
            "encoding": {
              "x": {"field": "t", "type": "quantitative", "scale": {"type": "log", "domain": [50, 10300], "nice": false}, "axis": {"orient": "top", "values": [83,142,244,414,710,1225,2080,3597,6110], "tickDash": {"condition": {"test": "indexof([142,414,1225,3597],datum.value)>=0", "value": [6, 0]}, "value": [0, 2, 3, 10]}}},
              "y": {"field": "r", "type": "quantitative", "scale": {"domain": [-0.125, 0.15], "nice": false, "zero": false}, "axis": {"orient": "left", "values": [-0.1,-0.05,0,0.05,0.1], "format": ".1f", "labelExpr": "abs(datum.value*10-round(datum.value*10))<0.001?datum.label:''", "tickSize": {"condition": {"test": "abs(datum.value*10-round(datum.value*10))<0.001", "value": 5}, "value": 3}, "title": "Residual", "labelPadding": 2, "titlePadding": 12.7, "titleY": 95}}
            }
          },
          {
            "data": {"values": [{}]},
            "mark": {"type": "rule", "color": "#7a7a7a", "strokeWidth": 1.5},
            "encoding": {
              "y": {"datum": 0, "type": "quantitative", "scale": {"domain": [-0.125, 0.15], "nice": false, "zero": false}, "axis": {"orient": "right", "values": [-0.1,-0.05,0,0.05,0.1], "tickDash": {"condition": {"test": "abs(datum.value*10-round(datum.value*10))<0.001", "value": [6, 0]}, "value": [0, 2, 3, 10]}}}
            }
          },
          {
            "data": {"values": [{}]},
            "mark": {"type": "text", "align": "center", "baseline": "middle", "fontSize": 12.5},
            "encoding": {
              "x": {"datum": 844, "type": "quantitative", "scale": {"type": "log", "domain": [50, 10300], "nice": false}, "axis": null},
              "y": {"datum": 0.107, "type": "quantitative", "scale": {"domain": [-0.125, 0.15], "nice": false, "zero": false}, "axis": null},
              "text": {"value": "Single-exponential"}
            }
          }
        ],
        "resolve": {"axis": {"x": "independent", "y": "independent"}}
      },
      {
        "width": 308, "height": 113.4,
        "layer": [
          {
            "data": {"name": "c_res"},
            "transform": [{"filter": "datum.m == 'double'"}],
            "mark": {"type": "square", "size": 25, "opacity": 1, "color": "#e0142c"},
            "encoding": {
              "x": {"field": "t", "type": "quantitative", "scale": {"type": "log", "domain": [50, 10300], "nice": false}, "axis": {"orient": "top", "values": [83,142,244,414,710,1225,2080,3597,6110], "tickDash": {"condition": {"test": "indexof([142,414,1225,3597],datum.value)>=0", "value": [6, 0]}, "value": [0, 2, 3, 10]}}},
              "y": {"field": "r", "type": "quantitative", "scale": {"domain": [-0.133, 0.15], "nice": false, "zero": false}, "axis": {"orient": "left", "values": [-0.1,-0.05,0,0.05,0.1], "format": ".1f", "labelExpr": "abs(datum.value*10-round(datum.value*10))<0.001?datum.label:''", "tickSize": {"condition": {"test": "abs(datum.value*10-round(datum.value*10))<0.001", "value": 5}, "value": 3}, "title": null, "labelPadding": 2}}
            }
          },
          {
            "data": {"values": [{}]},
            "mark": {"type": "rule", "color": "#7a7a7a", "strokeWidth": 1.5},
            "encoding": {
              "y": {"datum": 0, "type": "quantitative", "scale": {"domain": [-0.133, 0.15], "nice": false, "zero": false}, "axis": {"orient": "right", "values": [-0.1,-0.05,0,0.05,0.1], "tickDash": {"condition": {"test": "abs(datum.value*10-round(datum.value*10))<0.001", "value": [6, 0]}, "value": [0, 2, 3, 10]}}}
            }
          },
          {
            "data": {"values": [{}]},
            "mark": {"type": "text", "align": "center", "baseline": "middle", "fontSize": 12.5},
            "encoding": {
              "x": {"datum": 877, "type": "quantitative", "scale": {"type": "log", "domain": [50, 10300], "nice": false}, "axis": null},
              "y": {"datum": 0.1075, "type": "quantitative", "scale": {"domain": [-0.133, 0.15], "nice": false, "zero": false}, "axis": null},
              "text": {"value": "Double-exponential"}
            }
          }
        ],
        "resolve": {"axis": {"x": "independent", "y": "independent"}}
      },
      {
        "width": 308, "height": 229,
        "layer": [
          {
            "data": {"name": "c_pts"},
            "mark": {"type": "circle", "size": 40, "opacity": 1, "color": "#111111"},
            "encoding": {
              "x": {"field": "t", "type": "quantitative", "scale": {"type": "log", "domain": [50, 10300], "nice": false}, "axis": {"orient": "bottom", "values": [50,60,70,80,90,100,200,300,400,500,600,700,800,900,1000,2000,3000,4000,5000,6000,7000,8000,9000,10000], "format": "d", "labelExpr": "indexof([100,1000,10000],datum.value)>=0?datum.label:''", "tickSize": {"condition": {"test": "indexof([100,1000,10000],datum.value)>=0", "value": 5}, "value": 3}, "title": "Time (s)", "labelPadding": 3, "titlePadding": 2, "titleX": 145.7}},
              "y": {"field": "y", "type": "quantitative", "scale": {"domain": [-0.1, 1.0], "nice": false, "zero": false}, "axis": {"orient": "left", "values": [-0.1,0,0.1,0.2,0.3,0.4,0.5,0.6,0.7,0.8,0.9,1.0], "format": ".1f", "labelExpr": "abs(datum.value*5-round(datum.value*5))<0.001?datum.label:''", "tickSize": {"condition": {"test": "abs(datum.value*5-round(datum.value*5))<0.001", "value": 5}, "value": 3}, "title": "Fraction of bound RNA", "labelPadding": 2, "titlePadding": 17, "titleY": 122}}
            }
          },
          {
            "data": {"name": "c_fit"},
            "mark": {"type": "line", "strokeWidth": 1.5, "interpolate": "monotone"},
            "encoding": {
              "x": {"field": "t", "type": "quantitative", "scale": {"type": "log", "domain": [50, 10300], "nice": false}, "axis": {"orient": "top", "values": [83,142,244,414,710,1225,2080,3597,6110], "tickDash": {"condition": {"test": "indexof([142,414,1225,3597],datum.value)>=0", "value": [6, 0]}, "value": [0, 2, 3, 10]}}},
              "y": {"field": "y", "type": "quantitative", "scale": {"domain": [-0.1, 1.0], "nice": false, "zero": false}, "axis": {"orient": "right", "values": [-0.1,0,0.1,0.2,0.3,0.4,0.5,0.6,0.7,0.8,0.9,1.0], "tickDash": {"condition": {"test": "abs(datum.value*5-round(datum.value*5))<0.001", "value": [6, 0]}, "value": [0, 2, 3, 10]}}},
              "stroke": {"field": "m", "type": "nominal", "scale": {"domain": ["Single-exponential","Double-exponential"], "range": ["#1c2877","#e0202e"]}, "legend": {"orient": "none", "legendX": 94.7, "legendY": 31.5, "direction": "vertical", "title": null, "symbolType": "stroke", "symbolSize": 1296, "symbolStrokeWidth": 1.5, "rowPadding": -27.9, "labelOffset": 0}}
            }
          }
        ],
        "resolve": {"axis": {"x": "independent", "y": "independent"}}
      }
    ],
    "spacing": 0,
    "bounds": "flush",
    "resolve": {"scale": {"color": "independent", "shape": "independent", "stroke": "independent"}, "legend": {"color": "independent", "shape": "independent", "stroke": "independent"}}
  },
  {
    "vconcat": [
      {
        "width": 311, "height": 228,
        "title": {"text": "B", "dx": -46.6, "dy": 3},
        "layer": [
          {
            "data": {"name": "b_pts"},
            "mark": {"type": "point", "filled": true, "size": 36, "opacity": 1},
            "encoding": {
              "x": {"field": "t", "type": "quantitative", "scale": {"type": "log", "domain": [40, 2000], "nice": false}, "axis": {"orient": "bottom", "values": [40,50,60,70,80,90,100,200,300,400,500,600,700,800,900,1000,2000], "format": "d", "labelExpr": "indexof([100,1000],datum.value)>=0?datum.label:''", "tickSize": {"condition": {"test": "indexof([100,1000],datum.value)>=0", "value": 5}, "value": 3}, "title": "Time (s)", "labelPadding": 4, "titlePadding": 5}},
              "y": {"field": "y", "type": "quantitative", "scale": {"domain": [-0.1, 0.7], "nice": false, "zero": false}, "axis": {"orient": "left", "values": [-0.1,0,0.1,0.2,0.3,0.4,0.5,0.6,0.7], "format": ".1f", "labelExpr": "abs(datum.value*5-round(datum.value*5))<0.001?datum.label:''", "tickSize": {"condition": {"test": "abs(datum.value*5-round(datum.value*5))<0.001", "value": 5}, "value": 3}, "title": "Fraction of bound RNA", "labelPadding": 2, "titlePadding": 6, "titleY": 126}},
              "color": {"field": "s", "type": "nominal", "scale": {"domain": ["5","240"], "range": ["#111111","#e3101e"]}, "legend": {"orient": "none", "legendX": 183.4, "legendY": 16.5, "direction": "vertical", "title": "Incubation\u00a0 (min)", "titlePadding": 2.3, "rowPadding": 5, "symbolOffset": 22, "labelOffset": 9.8, "symbolSize": 36}},
              "shape": {"field": "s", "type": "nominal", "scale": {"domain": ["5","240"], "range": ["square","circle"]}, "legend": {"orient": "none", "legendX": 183.4, "legendY": 16.5, "direction": "vertical", "title": "Incubation\u00a0 (min)", "titlePadding": 2.3, "rowPadding": 5, "symbolOffset": 22, "labelOffset": 9.8, "symbolSize": 36}}
            }
          },
          {
            "data": {"name": "b_fit"},
            "mark": {"type": "line", "strokeWidth": 1.5, "interpolate": "monotone"},
            "encoding": {
              "x": {"field": "t", "type": "quantitative", "scale": {"type": "log", "domain": [40, 2000], "nice": false}, "axis": {"orient": "top", "values": [40,50,60,70,80,90,100,200,300,400,500,600,700,800,900,1000,2000], "tickDash": {"condition": {"test": "indexof([100,1000],datum.value)>=0", "value": [6, 0]}, "value": [0, 2, 3, 10]}}},
              "y": {"field": "y", "type": "quantitative", "scale": {"domain": [-0.1, 0.7], "nice": false, "zero": false}, "axis": {"orient": "right", "values": [-0.1,0,0.1,0.2,0.3,0.4,0.5,0.6,0.7], "tickDash": {"condition": {"test": "abs(datum.value*5-round(datum.value*5))<0.001", "value": [6, 0]}, "value": [0, 2, 3, 10]}}},
              "stroke": {"field": "s", "type": "nominal", "scale": {"domain": ["5","240"], "range": ["#111111","#cc1020"]}, "legend": null}
            }
          },
          {
            "data": {"values": [{}]},
            "mark": {"type": "text", "align": "left", "baseline": "middle"},
            "encoding": {
              "x": {"datum": 96, "type": "quantitative", "scale": {"type": "log", "domain": [40, 2000], "nice": false}, "axis": null},
              "y": {"datum": 0.619, "type": "quantitative", "scale": {"domain": [-0.1, 0.7], "nice": false, "zero": false}, "axis": null},
              "text": {"value": "WT-RNP"}
            }
          }
        ],
        "resolve": {"axis": {"x": "independent", "y": "independent"}}
      },
      {
        "width": 301.7, "height": 228,
        "title": {"text": "D", "dx": -53, "dy": -2},
        "layer": [
          {
            "data": {"name": "d_pts"},
            "mark": {"type": "point", "filled": true, "size": 45, "opacity": 1},
            "encoding": {
              "x": {"field": "inc", "type": "quantitative", "scale": {"domain": [-24.6, 317.5], "nice": false, "zero": false}, "axis": {"orient": "bottom", "values": [0,25,50,75,100,125,150,175,200,225,250,275,300], "format": "d", "labelExpr": "datum.value%50==0?datum.label:''", "tickSize": {"condition": {"test": "datum.value%50==0", "value": 5}, "value": 3}, "title": "Incubation time (min)", "labelPadding": 3, "titlePadding": 5}},
              "y": {"field": "amp", "type": "quantitative", "scale": {"domain": [-0.1, 1.2], "nice": false, "zero": false}, "axis": {"orient": "left", "values": [-0.1,0,0.1,0.2,0.3,0.4,0.5,0.6,0.7,0.8,0.9,1.0,1.1,1.2], "format": ".1f", "labelExpr": "abs(datum.value*5-round(datum.value*5))<0.001?datum.label:''", "tickSize": {"condition": {"test": "abs(datum.value*5-round(datum.value*5))<0.001", "value": 5}, "value": 3}, "title": "Amplituide", "labelPadding": 2, "titlePadding": 12.7, "titleY": 108.5}},
              "color": {"field": "c", "type": "nominal", "scale": {"domain": ["Fast\u00a0 decay component","Slow decay component"], "range": ["#111111","#e3101e"]}, "legend": {"orient": "none", "legendX": 114, "legendY": 100.5, "direction": "vertical", "title": null, "rowPadding": 9.7, "labelOffset": 10, "symbolSize": 45}},
              "shape": {"field": "c", "type": "nominal", "scale": {"domain": ["Fast\u00a0 decay component","Slow decay component"], "range": ["square","circle"]}, "legend": {"orient": "none", "legendX": 114, "legendY": 100.5, "direction": "vertical", "title": null, "rowPadding": 9.7, "labelOffset": 10, "symbolSize": 45}}
            }
          },
          {
            "data": {"name": "d_fit"},
            "mark": {"type": "line", "strokeWidth": 1.5, "interpolate": "monotone"},
            "encoding": {
              "x": {"field": "inc", "type": "quantitative", "scale": {"domain": [-24.6, 317.5], "nice": false, "zero": false}, "axis": {"orient": "top", "values": [0,25,50,75,100,125,150,175,200,225,250,275,300], "tickDash": {"condition": {"test": "datum.value%50==0", "value": [6, 0]}, "value": [0, 2, 3, 10]}}},
              "y": {"field": "amp", "type": "quantitative", "scale": {"domain": [-0.1, 1.2], "nice": false, "zero": false}, "axis": {"orient": "right", "values": [-0.1,0,0.1,0.2,0.3,0.4,0.5,0.6,0.7,0.8,0.9,1.0,1.1,1.2], "tickDash": {"condition": {"test": "abs(datum.value*5-round(datum.value*5))<0.001", "value": [6, 0]}, "value": [0, 2, 3, 10]}}},
              "stroke": {"field": "c", "type": "nominal", "scale": {"domain": ["fast","slow"], "range": ["#111111","#d81020"]}, "legend": null}
            }
          },
          {
            "data": {"values": [{}]},
            "mark": {"type": "text", "align": "left", "baseline": "middle"},
            "encoding": {
              "x": {"datum": 25, "type": "quantitative", "scale": {"domain": [-24.6, 317.5], "nice": false, "zero": false}, "axis": null},
              "y": {"datum": 1.04, "type": "quantitative", "scale": {"domain": [-0.1, 1.2], "nice": false, "zero": false}, "axis": null},
              "text": {"value": "ΔGar1-RNP"}
            }
          }
        ],
        "resolve": {"axis": {"x": "independent", "y": "independent"}}
      }
    ],
    "spacing": 80,
    "bounds": "flush",
    "resolve": {"scale": {"color": "independent", "shape": "independent", "stroke": "independent"}, "legend": {"color": "independent", "shape": "independent", "stroke": "independent"}}
  }
],
"spacing": 0.3,
"bounds": "full",
"resolve": {"scale": {"color": "independent", "shape": "independent", "stroke": "independent"}, "legend": {"color": "independent", "shape": "independent", "stroke": "independent"}}
}
